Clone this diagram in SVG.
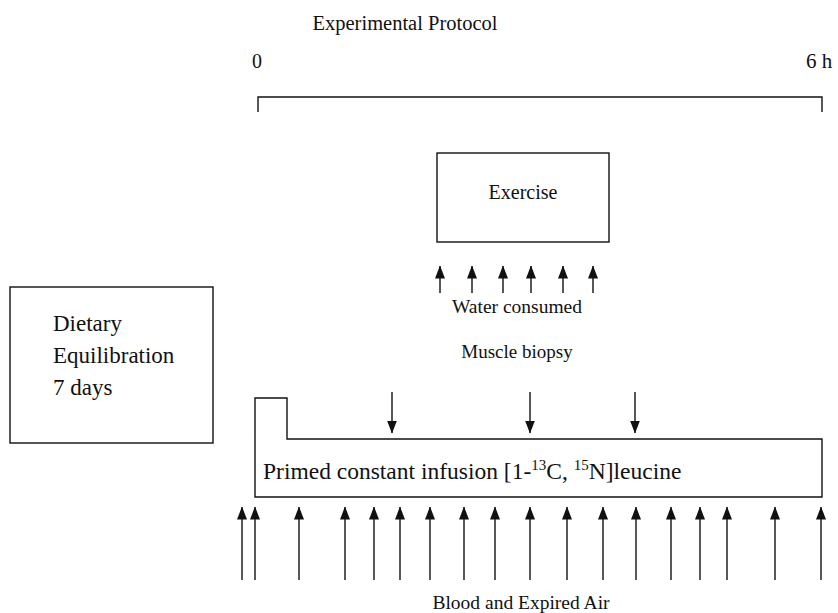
<svg xmlns="http://www.w3.org/2000/svg" width="838" height="613" viewBox="0 0 838 613">
<style>
  text { font-family: "Liberation Serif", "Times New Roman", serif; font-size: 20px; fill: #111; }
  .box { fill: none; stroke: #111; stroke-width: 1.4; }
  .arr { stroke: #111; stroke-width: 1.4; fill: none; marker-end: url(#ah); }
  .mid { text-anchor: middle; }
  .big { font-size: 23px; }
  .inf { font-size: 23.5px; }
  .sup { font-size: 15px; }
</style>
<defs>
  <marker id="ah" markerUnits="userSpaceOnUse" markerWidth="13" markerHeight="10" viewBox="0 0 13 10" refX="12.5" refY="5" orient="auto">
    <path d="M0,0 L13,5 L0,10 Z" fill="#111"/>
  </marker>
</defs>

<g id="title">
  <text x="405" y="30" class="mid" style="font-size:20.5px">Experimental Protocol</text>
</g>

<g id="timeline">
  <text x="257" y="68" class="mid">0</text>
  <text x="806" y="68" style="font-size:21px">6 h</text>
  <path class="box" d="M258,112 V97 H822 V112"/>
</g>

<g id="exercise">
  <rect class="box" x="437" y="153" width="172" height="89"/>
  <text x="523" y="199" class="mid">Exercise</text>
</g>

<g id="dietary">
  <rect class="box" x="10" y="287" width="203" height="156"/>
  <text x="53" y="331" class="big">Dietary</text>
  <text x="53" y="363" class="big">Equilibration</text>
  <text x="53" y="395" class="big">7 days</text>
</g>

<g id="water-label">
  <text x="517" y="313" class="mid" style="font-size:19.5px">Water consumed</text>
</g>

<g id="biopsy-label">
  <text x="517" y="358" class="mid" style="font-size:19px">Muscle biopsy</text>
</g>

<g id="infusion">
  <path class="box" d="M255,497 V398 H287 V439 H822 V497 Z"/>
  <text x="263" y="479" class="inf">Primed constant infusion [1-<tspan class="sup" dy="-9">13</tspan><tspan dy="9">C, </tspan><tspan class="sup" dy="-9">15</tspan><tspan dy="9">N]leucine</tspan></text>
</g>

<g id="blood-label">
  <text x="521" y="609" class="mid" style="font-size:19.5px">Blood and Expired Air</text>
</g>

<g id="connectors">
  <!-- water consumed arrows -->
  <line class="arr" x1="440" y1="293" x2="440" y2="266"/>
  <line class="arr" x1="472" y1="293" x2="472" y2="266"/>
  <line class="arr" x1="503" y1="293" x2="503" y2="266"/>
  <line class="arr" x1="531" y1="293" x2="531" y2="266"/>
  <line class="arr" x1="563" y1="293" x2="563" y2="266"/>
  <line class="arr" x1="593" y1="293" x2="593" y2="266"/>
  <!-- muscle biopsy arrows -->
  <line class="arr" x1="392" y1="392" x2="392" y2="433"/>
  <line class="arr" x1="530" y1="392" x2="530" y2="433"/>
  <line class="arr" x1="635" y1="392" x2="635" y2="433"/>
  <!-- blood and expired air arrows -->
  <line class="arr" x1="242" y1="580" x2="242" y2="507"/>
  <line class="arr" x1="255" y1="580" x2="255" y2="507"/>
  <line class="arr" x1="299" y1="580" x2="299" y2="507"/>
  <line class="arr" x1="345" y1="580" x2="345" y2="507"/>
  <line class="arr" x1="374" y1="580" x2="374" y2="507"/>
  <line class="arr" x1="400" y1="580" x2="400" y2="507"/>
  <line class="arr" x1="430" y1="580" x2="430" y2="507"/>
  <line class="arr" x1="464" y1="580" x2="464" y2="507"/>
  <line class="arr" x1="495" y1="580" x2="495" y2="507"/>
  <line class="arr" x1="530" y1="580" x2="530" y2="507"/>
  <line class="arr" x1="567" y1="580" x2="567" y2="507"/>
  <line class="arr" x1="603" y1="580" x2="603" y2="507"/>
  <line class="arr" x1="636" y1="580" x2="636" y2="507"/>
  <line class="arr" x1="671" y1="580" x2="671" y2="507"/>
  <line class="arr" x1="700" y1="580" x2="700" y2="507"/>
  <line class="arr" x1="727" y1="580" x2="727" y2="507"/>
  <line class="arr" x1="775" y1="580" x2="775" y2="507"/>
  <line class="arr" x1="821" y1="580" x2="821" y2="507"/>
</g>
</svg>
